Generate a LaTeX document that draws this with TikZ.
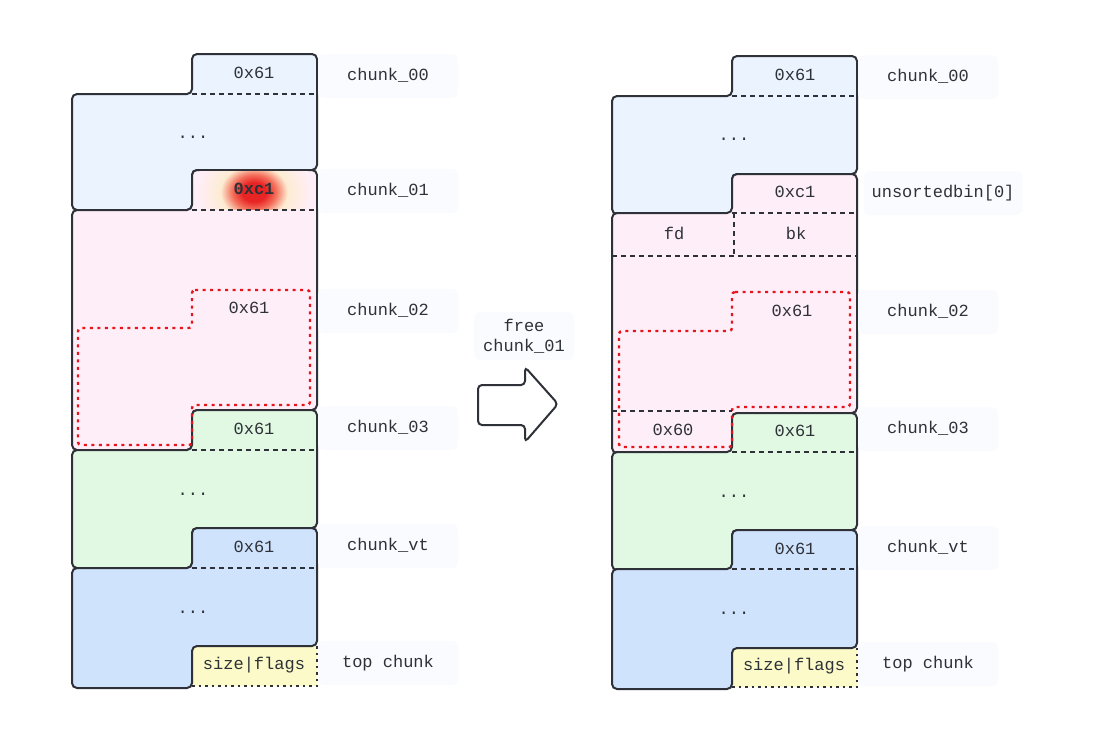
\documentclass[tikz,border=0pt]{standalone}
\usepackage{fontspec}
\setmonofont{Liberation Mono}
\usepackage{tikz}
\definecolor{ink}{RGB}{46,50,56}
\definecolor{lblbg}{RGB}{250,251,254}
\definecolor{c00}{RGB}{235,243,254}
\definecolor{pinkfill}{RGB}{254,238,248}
\definecolor{greenfill}{RGB}{225,248,226}
\definecolor{bluefill}{RGB}{208,227,253}
\definecolor{yellowfill}{RGB}{251,250,200}
\definecolor{redline}{RGB}{232,20,28}
\definecolor{glowred}{RGB}{232,36,36}
\definecolor{gloworange}{RGB}{243,110,90}
\definecolor{glowpale}{RGB}{253,236,210}
\pgfdeclareradialshading{glow}{\pgfpoint{0bp}{0bp}}{color(0bp)=(glowred);
  color(5bp)=(glowred);color(9bp)=(gloworange);color(14bp)=(glowpale);
  color(24bp)=(pinkfill);color(50bp)=(pinkfill)}
% chunk outline: header x0, header x1, body left, top, header bottom, right bottom, bottom
\newcommand{\chunkpath}[7]{(#1,#4) -- (#2,#4) -- (#2,#6) -- (#1,#6) -- (#1,#7)
  -- (#3,#7) -- (#3,#5) -- (#1,#5) -- cycle}

\begin{document}
\begin{tikzpicture}[x=1pt,y=-1pt,
  chunk/.style={draw=ink,line width=2pt,rounded corners=5pt},
  hdrline/.style={draw=ink,line width=1.8pt,dash pattern=on 5pt off 4pt},
  dotline/.style={draw=ink,line width=1.8pt,dash pattern=on 2.5pt off 4pt},
  freed/.style={draw=redline,line width=2.4pt,dash pattern=on 3pt off 4.5pt,rounded corners=3pt},
  txt/.style={font=\ttfamily\fontsize{17}{20}\selectfont,text=ink,inner sep=0pt,
              text height=11pt,text depth=2pt},
  lbl/.style={txt,fill=lblbg,rounded corners=6pt,minimum width=140pt,
              minimum height=44pt,inner xsep=8pt,align=center}]
  \useasboundingbox (0,0) rectangle (1099,745);

  % ---- before free ----
  \fill[yellowfill] (192,646) rectangle (317,686);
  \draw[dotline] (192,686) -- (317,686) -- (317,646);
  \draw[chunk,fill=c00] \chunkpath{192}{317}{72}{54}{94}{170}{210};
  \draw[chunk,fill=pinkfill] \chunkpath{192}{317}{72}{170}{210}{410}{450};
  \begin{scope}
    \clip (193,171) rectangle (316,209);
    \shade[shading=glow] (254,192) ellipse [x radius=60pt,y radius=48pt];
  \end{scope}
  \draw[chunk,fill=greenfill] \chunkpath{192}{317}{72}{410}{450}{528}{568};
  \draw[chunk,fill=bluefill] \chunkpath{192}{317}{72}{528}{568}{646}{688};
  \draw[freed] \chunkpath{192}{310}{78}{290}{328}{405}{445};
  \draw[hdrline] (192,94) -- (317,94);
  \draw[hdrline] (192,210) -- (317,210);
  \draw[hdrline] (192,450) -- (317,450);
  \draw[hdrline] (192,568) -- (317,568);

  \node[txt] (a00) at (254,74) {0x61};
  \node[txt] (a00d) at (193,134) {...};
  \node[txt,font=\ttfamily\bfseries\fontsize{17}{20}\selectfont] (a01) at (254,190) {0xc1};
  \node[txt] (a02) at (249,309) {0x61};
  \node[txt] (a03) at (254,430) {0x61};
  \node[txt] (a03d) at (193,491) {...};
  \node[txt] (avt) at (254,548) {0x61};
  \node[txt] (avtd) at (193,609) {...};
  \node[txt] (atop) at (254,665) {size|flags};

  \node[lbl] (la00) at (388,76) {chunk\_00};
  \node[lbl] (la01) at (388,191) {chunk\_01};
  \node[lbl] (la02) at (388,311) {chunk\_02};
  \node[lbl] (la03) at (388,428) {chunk\_03};
  \node[lbl] (lavt) at (388,546) {chunk\_vt};
  \node[lbl] (latop) at (388,663) {top chunk};

  % ---- free arrow ----
  \node[lbl,minimum width=100pt,minimum height=48pt,inner xsep=6pt,
        text height=,text depth=] (freelbl) at (524,336) {free\\chunk\_01};
  \draw[chunk,rounded corners=4pt] (478,385) -- (525,385) -- (525,367) -- (558,404)
    -- (525,442) -- (525,425) -- (478,425) -- cycle;

  % ---- after free ----
  \fill[yellowfill] (732,648) rectangle (857,687);
  \draw[dotline] (732,687) -- (857,687) -- (857,648);
  \draw[chunk,fill=c00] \chunkpath{732}{857}{612}{56}{96}{174}{214};
  \draw[chunk,fill=pinkfill] \chunkpath{732}{857}{612}{174}{213}{413}{453};
  \draw[chunk,fill=greenfill] \chunkpath{732}{857}{612}{413}{452}{530}{570};
  \draw[chunk,fill=bluefill] \chunkpath{732}{857}{612}{530}{569}{648}{689};
  \draw[freed] \chunkpath{732}{850}{619}{292}{331}{407}{447};
  \draw[hdrline] (732,96) -- (857,96);
  \draw[hdrline] (732,213) -- (857,213);
  \draw[hdrline] (612,256) -- (857,256);
  \draw[hdrline] (734,213) -- (734,256);
  \draw[hdrline] (612,411) -- (732,411);
  \draw[hdrline] (732,452) -- (857,452);
  \draw[hdrline] (732,569) -- (857,569);

  \node[txt] (b00) at (795,76) {0x61};
  \node[txt] (b00d) at (734,136) {...};
  \node[txt] (b01) at (795,193) {0xc1};
  \node[txt] (bfd) at (674,235) {fd};
  \node[txt] (bbk) at (796,235) {bk};
  \node[txt] (b02) at (792,312) {0x61};
  \node[txt] (b60) at (673,431) {0x60};
  \node[txt] (b03) at (795,432) {0x61};
  \node[txt] (b03d) at (734,493) {...};
  \node[txt] (bvt) at (795,550) {0x61};
  \node[txt] (bvtd) at (734,610) {...};
  \node[txt] (btop) at (794,666) {size|flags};

  \node[lbl] (lb00) at (928,77) {chunk\_00};
  \node[lbl] (lb01) at (943,193) {unsortedbin[0]};
  \node[lbl] (lb02) at (928,312) {chunk\_02};
  \node[lbl] (lb03) at (928,429) {chunk\_03};
  \node[lbl] (lbvt) at (928,548) {chunk\_vt};
  \node[lbl] (lbtop) at (928,664) {top chunk};
\end{tikzpicture}
\end{document}
